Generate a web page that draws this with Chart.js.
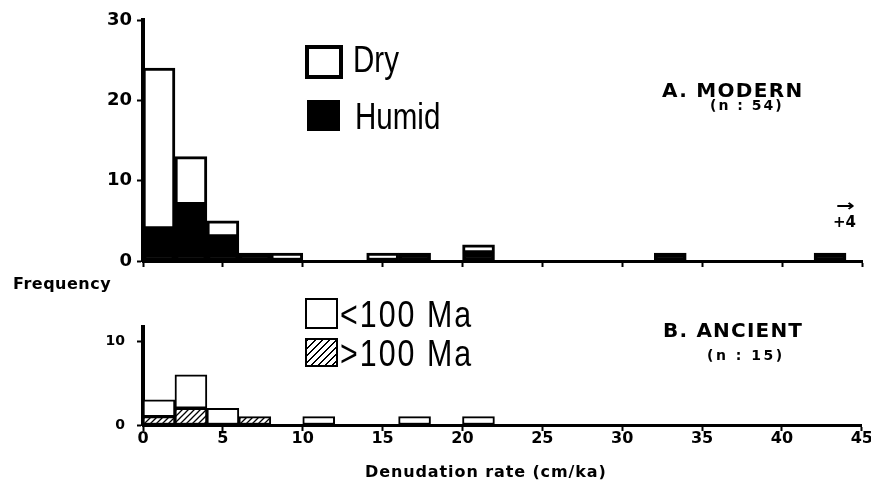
<!DOCTYPE html>
<html>
<head>
<meta charset="utf-8">
<script src="https://cdn.jsdelivr.net/npm/chart.js@4.4.0/dist/chart.umd.min.js"></script>
<style>
  html, body { margin: 0; padding: 0; background: #fff; }
  #wrap { position: relative; width: 871px; height: 480px; overflow: hidden; }
  canvas { position: absolute; left: 0; }
  .t { position: absolute; white-space: nowrap; color: #000; line-height: 1; }
  .lab { font-family: 'DejaVu Sans', sans-serif; font-weight: bold; }
  .leg { font-family: 'Liberation Sans', Arial, sans-serif; font-size: 36px; transform: scaleX(0.82); transform-origin: left; }
  .sw { position: absolute; box-sizing: border-box; }
</style>
</head>
<body>
<div id="wrap">
  <canvas id="modern" width="871" height="280" style="top:0"></canvas>
  <canvas id="ancient" width="871" height="200" style="top:280px"></canvas>

  <!-- legend, panel A -->
  <div class="sw" style="left:305px;top:45px;width:38px;height:34px;border:4px solid #000;background:#fff"></div>
  <div class="t leg" style="left:353px;top:42px">Dry</div>
  <div class="sw" style="left:307px;top:100px;width:33px;height:31px;background:#000"></div>
  <div class="t leg" style="left:355px;top:99px">Humid</div>

  <div class="t lab" style="left:662px;top:80px;font-size:20px;letter-spacing:1.3px">A. MODERN</div>
  <div class="t lab" style="left:710px;top:98px;font-size:14px;letter-spacing:2px">(n : 54)</div>
  <div class="t lab" style="left:836px;top:198px;font-size:16px;transform:scaleX(1.4);transform-origin:left">→</div>
  <div class="t lab" style="left:833px;top:215px;font-size:15px">+4</div>

  <div class="t lab" style="left:13px;top:276px;font-size:16px;letter-spacing:0.5px">Frequency</div>

  <!-- legend, panel B -->
  <div class="sw" style="left:305px;top:298px;width:33px;height:31px;border:2px solid #000;background:#fff"></div>
  <div class="t leg" style="left:340px;top:296px;font-size:37px;letter-spacing:2.5px">&lt;100 Ma</div>
  <div class="sw" style="left:305px;top:338px;width:33px;height:29px;border:2px solid #000;background:repeating-linear-gradient(135deg,#000 0 1.4px,#fff 1.4px 5px)"></div>
  <div class="t leg" style="left:340px;top:335px;font-size:37px;letter-spacing:2.5px">&gt;100 Ma</div>

  <div class="t lab" style="left:663px;top:320px;font-size:20px;letter-spacing:1.2px">B. ANCIENT</div>
  <div class="t lab" style="left:707px;top:348px;font-size:14px;letter-spacing:2.5px">(n : 15)</div>

  <div class="t lab" style="left:365px;top:464px;font-size:16px;letter-spacing:0.9px">Denudation rate (cm/ka)</div>
</div>
<script>
// bin centres of the 2 cm/ka classes
const binCenters = [1, 3, 5, 7, 9, 11, 13, 15, 17, 19, 21, 23, 25, 27, 29, 31, 33, 35, 37, 39, 41, 43];
// A. modern (n : 54, 4 off scale)
const modernHumid = [4, 7, 3, 1, 0, 0, 0, 0, 1, 0, 1, 0, 0, 0, 0, 0, 1, 0, 0, 0, 0, 1];
const modernDry   = [20, 6, 2, 0, 1, 0, 0, 1, 0, 0, 1, 0, 0, 0, 0, 0, 0, 0, 0, 0, 0, 0];
// B. ancient (n : 15)
const ancientOld   = [1, 2, 0, 1, 0, 0, 0, 0, 0, 0, 0, 0, 0, 0, 0, 0, 0, 0, 0, 0, 0, 0];
const ancientYoung = [2, 4, 2, 0, 0, 1, 0, 0, 1, 0, 1, 0, 0, 0, 0, 0, 0, 0, 0, 0, 0, 0];
const xTicks = [0, 5, 10, 15, 20, 25, 30, 35, 40, 45];
const modernYTicks = [0, 10, 20, 30];
const ancientYTicks = [0, 10];

const pts = arr => binCenters.map((x, i) => ({ x, y: arr[i] }));

function hatch() {
  const c = document.createElement('canvas');
  c.width = 6; c.height = 6;
  const g = c.getContext('2d');
  g.fillStyle = '#fff';
  g.fillRect(0, 0, 6, 6);
  g.strokeStyle = '#000';
  g.lineWidth = 1.3;
  g.beginPath();
  g.moveTo(0, 6); g.lineTo(6, 0);
  g.moveTo(-1, 1); g.lineTo(1, -1);
  g.moveTo(5, 7); g.lineTo(7, 5);
  g.stroke();
  return g.createPattern(c, 'repeat');
}

const font = size => ({ family: 'DejaVu Sans', weight: 'bold', size });

function xAxis(showLabels, height) {
  return {
    type: 'linear', min: 0, max: 45, offset: false, stacked: true,
    afterBuildTicks: s => { s.ticks = xTicks.map(v => ({ value: v })); },
    ticks: { display: showLabels, color: '#000', padding: -2, font: font(16), maxRotation: 0, autoSkip: false },
    grid: { offset: false, drawOnChartArea: false, drawTicks: true, tickLength: 6, tickWidth: 2, tickColor: '#000' },
    border: { color: '#000', width: 3 },
    afterFit: s => { s.height = height; }
  };
}

function yAxis(max, tickValues, size, pad) {
  return {
    min: 0, max, stacked: true,
    afterBuildTicks: s => { s.ticks = tickValues.map(v => ({ value: v })); },
    ticks: { color: '#000', padding: pad, font: font(size), autoSkip: false },
    grid: { drawOnChartArea: false, drawTicks: true, tickLength: 6, tickWidth: 2, tickColor: '#000' },
    border: { color: '#000', width: 4 },
    afterFit: s => { s.width = 143; }
  };
}

const common = {
  responsive: false, animation: false, devicePixelRatio: 1,
  plugins: { legend: { display: false }, tooltip: { enabled: false } }
};

const barStyle = (bg, bw) => ({
  backgroundColor: bg, borderColor: '#000', borderWidth: bw, borderSkipped: false,
  barPercentage: 1, categoryPercentage: 1
});

new Chart(document.getElementById('modern'), {
  type: 'bar',
  data: {
    datasets: [
      { label: 'Humid', data: pts(modernHumid), ...barStyle('#000', 3) },
      { label: 'Dry', data: pts(modernDry), ...barStyle('#fff', 3) }
    ]
  },
  options: {
    ...common,
    layout: { padding: { top: 20, right: 9, left: 0, bottom: 0 } },
    scales: { x: xAxis(false, 19), y: yAxis(30, modernYTicks, 18, 5) }
  }
});

new Chart(document.getElementById('ancient'), {
  type: 'bar',
  data: {
    datasets: [
      { label: '>100 Ma', data: pts(ancientOld), ...barStyle(hatch(), 2) },
      { label: '<100 Ma', data: pts(ancientYoung), ...barStyle('#fff', 2) }
    ]
  },
  options: {
    ...common,
    layout: { padding: { top: 47, right: 9, left: 0, bottom: 0 } },
    scales: { x: xAxis(true, 55), y: yAxis(11.7, ancientYTicks, 14, 12) }
  }
});
</script>
</body>
</html>
